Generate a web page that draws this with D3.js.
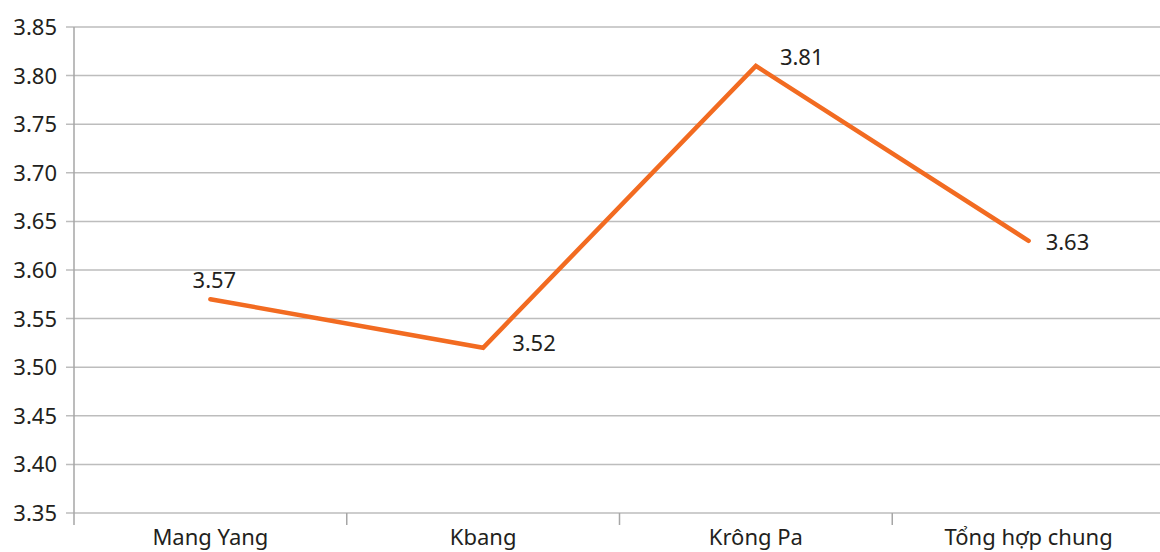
<!DOCTYPE html>
<html>
<head>
<meta charset="utf-8">
<script src="https://cdn.jsdelivr.net/npm/d3@7"></script>
<style>
  html, body { margin: 0; padding: 0; background: #fff; }
  svg { display: block; font-family: "Noto Sans", "Open Sans", sans-serif; }
</style>
</head>
<body>
<svg id="chart" width="1160" height="552"></svg>
<script>
// Districts and the mean score for each
const categories = ["Mang Yang", "Kbang", "Krông Pa", "Tổng hợp chung"];
const values = [3.57, 3.52, 3.81, 3.63];
const yTicks = [3.35, 3.40, 3.45, 3.50, 3.55, 3.60, 3.65, 3.70, 3.75, 3.80, 3.85];

// Where each value label sits relative to its point
const labelPlacement = [
  { dx: 4, dy: -11, anchor: "middle" },
  { dx: 29, dy: 3, anchor: "start" },
  { dx: 24, dy: -1, anchor: "start" },
  { dx: 17, dy: 9, anchor: "start" }
];

const svg = d3.select("#chart");
const plot = { left: 74, right: 1165, top: 27, bottom: 513 };

const x = d3.scaleBand().domain(categories).range([plot.left, plot.right]).padding(0);
const y = d3.scaleLinear().domain([3.35, 3.85]).range([plot.bottom, plot.top]);

// Horizontal gridlines
svg.append("g")
  .selectAll("line")
  .data(yTicks)
  .join("line")
  .attr("x1", plot.left - 8)
  .attr("x2", 1160)
  .attr("y1", d => y(d))
  .attr("y2", d => y(d))
  .attr("stroke", "#bdbdbd")
  .attr("stroke-width", 1.5);

// Y axis labels
svg.append("g")
  .selectAll("text")
  .data(yTicks)
  .join("text")
  .attr("x", 57)
  .attr("y", d => y(d))
  .attr("dy", "0.36em")
  .attr("text-anchor", "end")
  .attr("font-size", 22)
  .attr("fill", "#231f20")
  .text(d => d3.format(".2f")(d));

// Vertical axis line
svg.append("line")
  .attr("x1", plot.left).attr("x2", plot.left)
  .attr("y1", plot.top).attr("y2", plot.bottom + 12)
  .attr("stroke", "#a6a6a6")
  .attr("stroke-width", 1.5);

// Category boundary ticks
const boundaries = categories.map(c => x(c)).concat([plot.right]);
svg.append("g")
  .selectAll("line")
  .data(boundaries.slice(1))
  .join("line")
  .attr("x1", d => d).attr("x2", d => d)
  .attr("y1", plot.bottom).attr("y2", plot.bottom + 12)
  .attr("stroke", "#a6a6a6")
  .attr("stroke-width", 1.5);

// Category labels
svg.append("g")
  .selectAll("text")
  .data(categories)
  .join("text")
  .attr("x", d => x(d) + x.bandwidth() / 2)
  .attr("y", 545)
  .attr("text-anchor", "middle")
  .attr("font-size", 22)
  .attr("fill", "#231f20")
  .text(d => d);

// The line
const line = d3.line()
  .x((d, i) => x(categories[i]) + x.bandwidth() / 2)
  .y(d => y(d));

svg.append("path")
  .datum(values)
  .attr("d", line)
  .attr("fill", "none")
  .attr("stroke", "#f26b21")
  .attr("stroke-width", 4.5)
  .attr("stroke-linejoin", "miter")
  .attr("stroke-linecap", "round");

// Value labels
svg.append("g")
  .selectAll("text")
  .data(values)
  .join("text")
  .attr("x", (d, i) => x(categories[i]) + x.bandwidth() / 2 + labelPlacement[i].dx)
  .attr("y", (d, i) => y(d) + labelPlacement[i].dy)
  .attr("text-anchor", (d, i) => labelPlacement[i].anchor)
  .attr("font-size", 22)
  .attr("fill", "#231f20")
  .text(d => d3.format(".2f")(d));
</script>
</body>
</html>
